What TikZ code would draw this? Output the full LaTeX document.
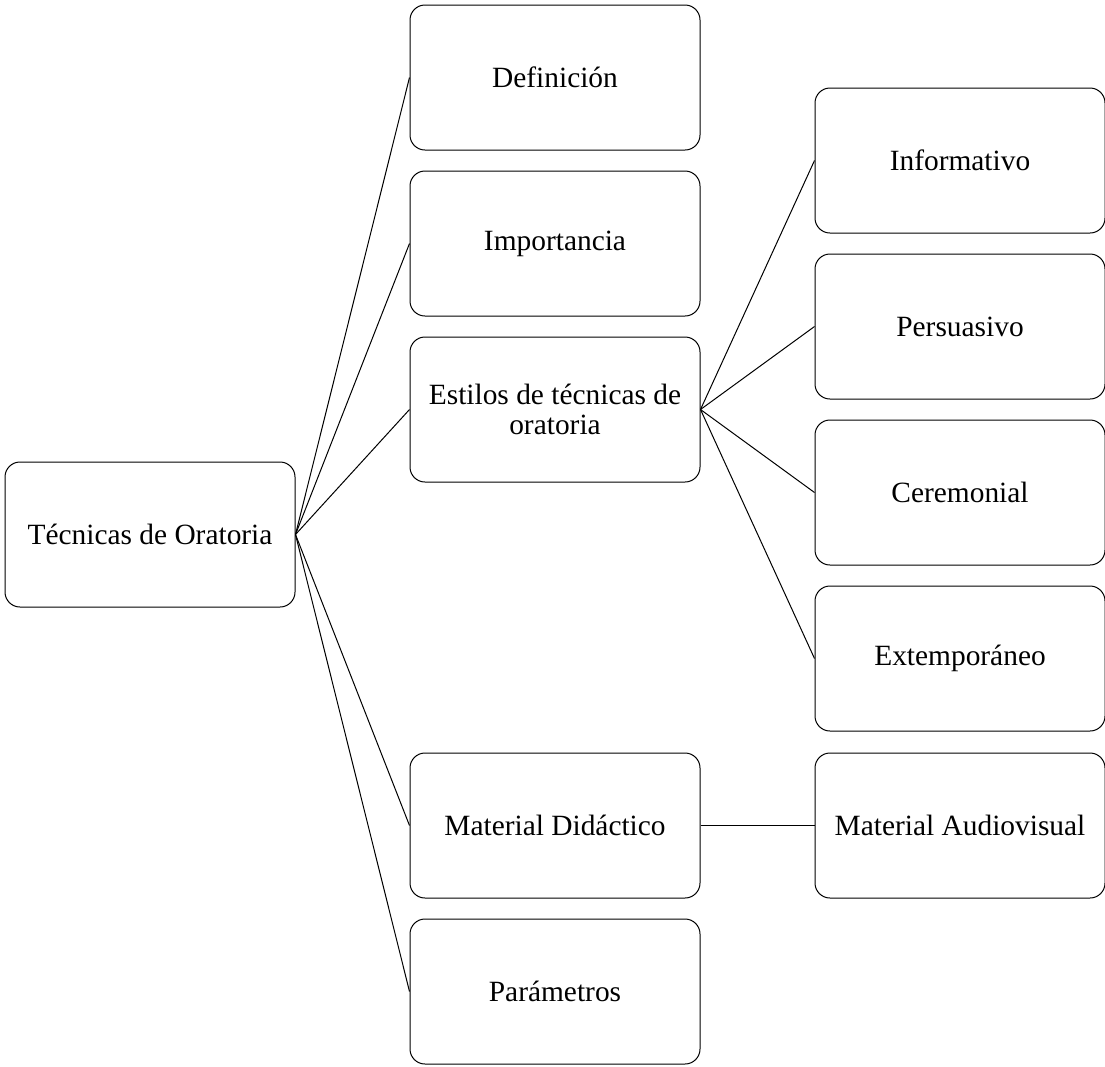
\documentclass[tikz,border=0pt]{standalone}
\usepackage{fontspec}
\setmainfont{Liberation Serif}
\begin{document}
\begin{tikzpicture}[x=1pt,y=-1pt,
  box/.style={draw=black, line width=1pt, rounded corners=15pt, minimum width=290pt, minimum height=145pt, align=center, inner sep=0pt, font=\fontsize{29.4}{30}\selectfont},
  conn/.style={draw=black, line width=1pt}]
\useasboundingbox (0,0) rectangle (1105,1066);
\node[box] (root) at (150,534.5) {Técnicas de Oratoria};
\node[box] (def) at (555,77.5) {Definición};
\node[box] (imp) at (555,243.5) {Importancia};
\node[box] (est) at (555,409.5) {Estilos de técnicas de\\oratoria};
\node[box] (mat) at (555,825.5) {Material Didáctico};
\node[box] (par) at (555,991.5) {Parámetros};
\node[box] (inf) at (960,160.5) {Informativo};
\node[box] (per) at (960,326.5) {Persuasivo};
\node[box] (cer) at (960,492.5) {Ceremonial};
\node[box] (ext) at (960,658.5) {Extemporáneo};
\node[box] (aud) at (960,825.5) {Material Audiovisual};
\foreach \t in {def,imp,est,mat,par} \draw[conn] (root.east) -- (\t.west);
\foreach \t in {inf,per,cer,ext} \draw[conn] (est.east) -- (\t.west);
\draw[conn] (mat.east) -- (aud.west);
\end{tikzpicture}
\end{document}
